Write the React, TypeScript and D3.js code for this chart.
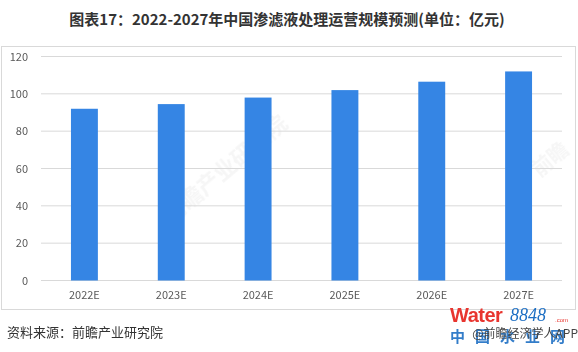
import React from "react";
import * as d3 from "d3";

const categories = ["2022E", "2023E", "2024E", "2025E", "2026E", "2027E"];
const values = [92, 94.5, 98, 102, 106.5, 112];
const yTicks = [0, 20, 40, 60, 80, 100, 120];

const title = "图表17：2022-2027年中国渗滤液处理运营规模预测(单位：亿元)";
const source = "资料来源：前瞻产业研究院";

const W = 578;
const H = 352;
const FONT = "'Noto Sans CJK SC', 'Microsoft YaHei', sans-serif";

export default function App() {
  const x = d3
    .scaleBand<string>()
    .domain(categories)
    .range([41, 562])
    .paddingInner(0.69)
    .paddingOuter(0.345);

  const y = d3.scaleLinear().domain([0, 120]).range([280.5, 56.5]);

  return (
    <svg
      width={W}
      height={H}
      style={{ position: "absolute", left: 0, top: 0, background: "#fff" }}
      fontFamily={FONT}
    >
      {/* title */}
      <text x={287} y={25} textAnchor="middle" fontSize={15} fontWeight="bold" fill="#333">
        {title}
      </text>

      {/* chart frame */}
      <rect x={1.5} y={46.5} width={574} height={263} fill="#fff" stroke="#d9d9d9" />

      {/* faint watermarks */}
      <g opacity={0.06} fill="#666" fontWeight="bold">
        <text x={230} y={175} fontSize={22} transform="rotate(-40 230 175)" textAnchor="middle">前瞻产业研究院</text>
        <text x={555} y={165} fontSize={20} transform="rotate(-40 555 165)" textAnchor="middle">前瞻</text>
      </g>

      {/* grid lines + y labels */}
      {yTicks.map((t) => (
        <g key={t}>
          <line x1={41} x2={562} y1={y(t)} y2={y(t)} stroke="#d9d9d9" strokeWidth={1} />
          <text x={28} y={y(t) + 4} textAnchor="end" fontSize={11} fill="#595959">
            {t}
          </text>
        </g>
      ))}

      {/* bars */}
      {categories.map((c, i) => (
        <rect
          key={c}
          x={x(c)}
          y={y(values[i])}
          width={x.bandwidth()}
          height={y(0) - y(values[i])}
          fill="#3585e4"
        />
      ))}

      {/* x labels */}
      {categories.map((c) => (
        <text
          key={c}
          x={(x(c) ?? 0) + x.bandwidth() / 2}
          y={299}
          textAnchor="middle"
          fontSize={11}
          fill="#595959"
        >
          {c}
        </text>
      ))}

      {/* source */}
      <text x={7} y={337} fontSize={13} fill="#333">
        {source}
      </text>

      {/* right-side watermarks */}
      <g>
        <text x={450} y={322} fontSize={20} fontWeight="bold" fill="#e8352f" fontFamily="Arial, 'Liberation Sans', sans-serif" letterSpacing={-0.5}>
          Water
        </text>
        <text x={510} y={321} fontSize={18} fontStyle="italic" fill="#1d6fc4" fontFamily="'Liberation Serif', serif">
          8848
        </text>
        <text x={555} y={322} fontSize={6} fill="#e8352f" fontFamily="Arial, sans-serif">
          .com
        </text>
        <text x={450} y={342} fontSize={15} fontWeight="bold" fill="#1d6fc4" letterSpacing={10} opacity={0.9}>
          中国水业网
        </text>
      </g>
      <text x={578} y={338} textAnchor="end" fontSize={12} fill="#444">
        @前瞻经济学人APP
      </text>
    </svg>
  );
}
